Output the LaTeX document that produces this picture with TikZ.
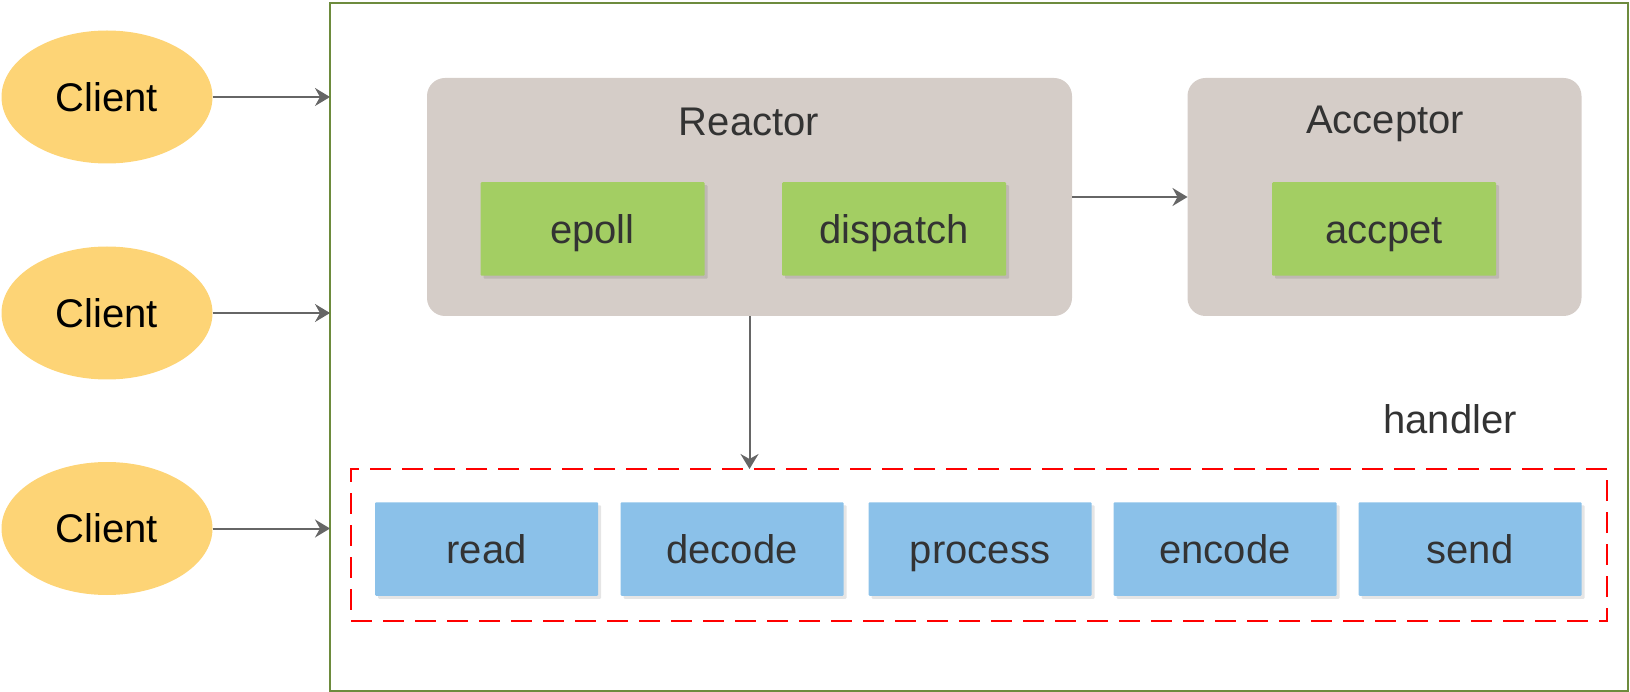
\documentclass[tikz,border=0pt]{standalone}
\usepackage{fontspec}
\setmainfont{Liberation Sans}
\usetikzlibrary{arrows.meta,shapes.geometric,shadows}
\definecolor{clientY}{HTML}{FDD476}
\definecolor{grpgray}{HTML}{D5CDC8}
\definecolor{boxgreen}{HTML}{A3CE63}
\definecolor{boxblue}{HTML}{8BC1E9}
\definecolor{txtgray}{HTML}{333333}
\definecolor{arrgray}{HTML}{666666}
\definecolor{outgreen}{HTML}{6D8B3D}
\begin{document}
\begin{tikzpicture}[x=1pt,y=-1pt,
  font=\fontsize{40}{48}\selectfont,
  every node/.style={inner sep=0pt, outer sep=0pt},
  client/.style={ellipse, fill=clientY, minimum width=211pt, minimum height=133pt,
    text=black, text height=28.8pt, text depth=0pt},
  grp/.style={rectangle, fill=grpgray, rounded corners=18pt},
  lab/.style={anchor=base, text=txtgray},
  gbox/.style={rectangle, fill=boxgreen, minimum width=224pt, minimum height=93.5pt,
    rounded corners=1pt, text=txtgray, text height=28.8pt, text depth=0pt,
    drop shadow={shadow xshift=3pt, shadow yshift=-3pt, fill=black, opacity=0.1}},
  bbox/.style={gbox, fill=boxblue, minimum width=223pt},
  arr/.style={draw=arrgray, line width=2pt, -{Stealth[length=15pt,width=18pt,inset=5pt]}},
]
\useasboundingbox (0,0) rectangle (1630,692);

\node[draw=outgreen, line width=2.2pt, minimum width=1298pt, minimum height=688pt] (main) at (979,347) {};

\node[client] (c1) at (107,97) {Client};
\node[client] (c2) at (107,313) {Client};
\node[client] (c3) at (107,528.5) {Client};

\node[grp, minimum width=645pt, minimum height=238pt] (reactor) at (749.5,197) {};
\node[grp, minimum width=394pt, minimum height=238pt] (acceptor) at (1384.5,197) {};
\node[lab] (rlab) at (749,136) {Reactor};
\node[lab] (alab) at (1385,134) {Acceptor};

\node[gbox] (epoll) at (592.5,229) {epoll};
\node[gbox] (dispatch) at (894,229) {dispatch};
\node[gbox] (accpet) at (1384,229) {accpet};

\node[draw=red, dash pattern=on 21pt off 11pt, line width=2pt,
  minimum width=1256pt, minimum height=152pt] (hbox) at (979,545) {};
\node[lab] (hlab) at (1450,433.3) {handler};

\node[bbox] (read) at (486.5,549) {read};
\node[bbox] (decode) at (732,549) {decode};
\node[bbox] (process) at (980,549) {process};
\node[bbox] (encode) at (1225,549) {encode};
\node[bbox] (send) at (1470,549) {send};

\draw[arr] (c1.east) -- (c1.east -| main.west);
\draw[arr] (c2.east) -- (c2.east -| main.west);
\draw[arr] (c3.east) -- (c3.east -| main.west);
\draw[arr] (reactor.east) -- (acceptor.west);
\draw[arr] (reactor.south) -- (reactor.south |- hbox.north);
\end{tikzpicture}
\end{document}
